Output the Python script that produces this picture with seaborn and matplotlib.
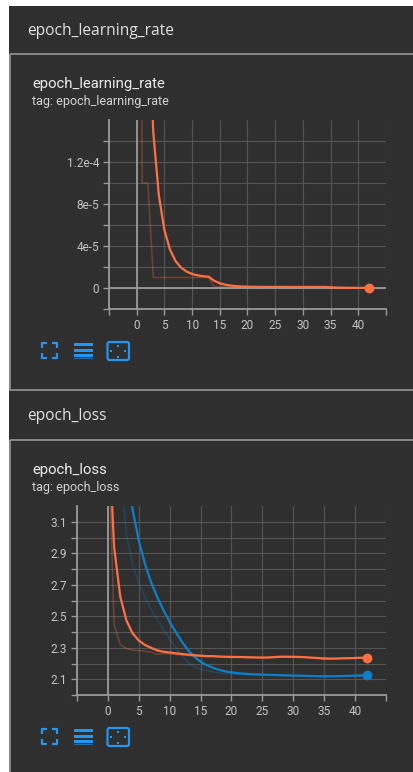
import matplotlib
matplotlib.use('Agg')
import matplotlib.pyplot as plt
import seaborn as sns
import pandas as pd
from matplotlib.patches import Rectangle, FancyBboxPatch

W, H = 414, 772

# ---- data ----
epochs = list(range(43))

lr_raw = [1e-3, 1e-4, 1e-4,
          1e-5, 1e-5, 1e-5, 1e-5, 1e-5, 1e-5, 1e-5, 1e-5, 1e-5, 1e-5, 1e-5,
          1e-6, 1e-6, 1e-6, 1e-6, 1e-6, 1e-6, 1e-6, 1e-6, 1e-6, 1e-6, 1e-6,
          1e-6, 1e-6, 1e-6, 1e-6, 1e-6, 1e-6, 1e-6, 1e-6, 1e-6, 1e-6,
          1e-7, 1e-7, 1e-7, 1e-7, 1e-7, 1e-7, 1e-7, 1e-7]

loss_train_raw = [3.76, 2.45, 2.32, 2.295, 2.285, 2.282, 2.278, 2.272, 2.258, 2.263,
                  2.262, 2.257, 2.254, 2.250, 2.248, 2.245, 2.243, 2.246, 2.241, 2.240,
                  2.240, 2.241, 2.239, 2.238, 2.237, 2.236, 2.239, 2.244, 2.246, 2.243,
                  2.242, 2.240, 2.237, 2.233, 2.231, 2.228, 2.229, 2.232, 2.236, 2.234,
                  2.237, 2.238, 2.236]

loss_val_raw = [4.60, 3.90, 3.45, 3.02, 2.83, 2.71, 2.62, 2.545, 2.48, 2.415,
                2.355, 2.30, 2.245, 2.205, 2.180, 2.165, 2.155, 2.148, 2.140, 2.136,
                2.133, 2.131, 2.130, 2.129, 2.128, 2.127, 2.126, 2.125, 2.124, 2.123,
                2.122, 2.121, 2.120, 2.119, 2.118, 2.118, 2.119, 2.120, 2.122, 2.123,
                2.124, 2.125, 2.125]

lr_yticks = [-2e-5, 0, 2e-5, 4e-5, 6e-5, 8e-5, 1e-4, 1.2e-4, 1.4e-4]
lr_ylabels = ['', '0', '', '4e-5', '', '8e-5', '', '1.2e-4', '']
loss_yticks = [2.0, 2.1, 2.2, 2.3, 2.4, 2.5, 2.6, 2.7, 2.8, 2.9, 3.0, 3.1]
loss_ylabels = ['', '2.1', '', '2.3', '', '2.5', '', '2.7', '', '2.9', '', '3.1']
xticks = [-5, 0, 5, 10, 15, 20, 25, 30, 35, 40, 45]
xlabels = ['', '0', '5', '10', '15', '20', '25', '30', '35', '40', '']

SMOOTHING = 0.6  # tensorboard default, debiased EMA == pandas ewm(adjust=True)
ORANGE = '#ff7043'
BLUE = '#0c7fcb'
BG = '#2f2f2f'
ICON = '#2196f3'

sns.set_theme(style='dark')
plt.rcParams['font.family'] = ['Roboto', 'DejaVu Sans']


def smooth(values):
    return pd.Series(values).ewm(alpha=1 - SMOOTHING).mean()


def px_axes(fig, left, top, right, bottom):
    return fig.add_axes([left / W, 1 - bottom / H, (right - left) / W, (bottom - top) / H])


def style_axes(ax, ylim, yticks, ylabels):
    ax.set_facecolor('none')
    ax.set_xlim(-5, 45)
    ax.set_ylim(*ylim)
    ax.set_xticks(xticks)
    ax.set_xticklabels(xlabels)
    ax.set_yticks(yticks)
    ax.set_yticklabels(ylabels)
    ax.set_axisbelow(True)
    ax.grid(True, color='#555555', lw=0.8)
    for s in ['top', 'right']:
        ax.spines[s].set_visible(False)
    for s in ['left', 'bottom']:
        ax.spines[s].set_color('#9a9a9a')
        ax.spines[s].set_linewidth(1.3)
    ax.tick_params(colors='#9a9a9a', labelcolor='#c4c4c4', length=4, width=1,
                   labelsize=8.5, pad=3, bottom=True, left=True)
    ax.axvline(0, color='#9a9a9a', lw=1.3, zorder=1)
    ax.set_xlabel('')
    ax.set_ylabel('')


def draw_run(ax, raw, color):
    sm = smooth(raw)
    sns.lineplot(x=epochs, y=raw, ax=ax, color=color, alpha=0.3, lw=1.1)
    sns.lineplot(x=epochs, y=sm, ax=ax, color=color, lw=1.6)
    ax.plot([epochs[-1]], [sm.iloc[-1]], 'o', ms=6, color=color, clip_on=False, zorder=5)


def draw_icons(bg, y0):
    # fit-domain brackets
    x0, x1, y1 = 42, 57, y0 + 15
    c = 5
    kw = dict(color=ICON, lw=1.6, solid_capstyle='butt')
    bg.plot([x0, x0, x0 + c], [y0 + c, y0, y0], **kw)
    bg.plot([x1 - c, x1, x1], [y0, y0, y0 + c], **kw)
    bg.plot([x0, x0, x0 + c], [y1 - c, y1, y1], **kw)
    bg.plot([x1 - c, x1, x1], [y1, y1, y1 - c], **kw)
    # data list icon
    for yy, hh, a in [(y0, 3, 1), (y0 + 5.7, 2.8, 1), (y0 + 10.7, 2.8, 1), (y0 + 14.8, 1.3, 0.6)]:
        bg.add_patch(Rectangle((74, yy), 19.3, hh, color=ICON, alpha=a, lw=0))
    # reset zoom icon
    bg.add_patch(FancyBboxPatch((107.5, y0 - 1), 21.5, 18, boxstyle='round,pad=0,rounding_size=2',
                                fill=False, ec=ICON, lw=1.6))
    for cx, cy in [(118.2, y0 + 2.6), (118.2, y0 + 13.6), (111.2, y0 + 8), (125.2, y0 + 8)]:
        bg.plot(cx, cy, 's', ms=1.6, color=ICON, mew=0)


fig = plt.figure(figsize=(W / 100, H / 100), dpi=100, facecolor='white')

bg = fig.add_axes([0, 0, 1, 1], zorder=-1)
bg.set_xlim(0, W)
bg.set_ylim(H, 0)
bg.axis('off')
bg.add_patch(Rectangle((9, 6), W - 9, H - 6, color=BG, lw=0))
bg.add_patch(Rectangle((10.5, 53.5), W, 336.5, fill=False, ec='#8e8e8e', lw=1.3))
bg.add_patch(Rectangle((10.5, 439.5), W, H, fill=False, ec='#8e8e8e', lw=1.3))

bg.text(27, 31, 'epoch_learning_rate', color='#e2e2e2', fontsize=11.2, va='center',
        family=['Open Sans', 'DejaVu Sans'])
bg.text(27, 416, 'epoch_loss', color='#e2e2e2', fontsize=11.2, va='center',
        family=['Open Sans', 'DejaVu Sans'])

for y_off, name in [(0, 'epoch_learning_rate'), (386, 'epoch_loss')]:
    bg.text(32, 84 + y_off, name, color='#ececec', fontsize=10.7, va='center')
    bg.text(32, 102 + y_off, 'tag: ' + name, color='#d4d4d4', fontsize=9, va='center')
    draw_icons(bg, 343 + y_off)

# learning rate chart
ax1 = px_axes(fig, 109, 120, 386, 309)
draw_run(ax1, lr_raw, ORANGE)
style_axes(ax1, (-2e-5, 1.6e-4), lr_yticks, lr_ylabels)
ax1.axhline(0, color='#9a9a9a', lw=1.3, zorder=1)

# loss chart
ax2 = px_axes(fig, 77, 506, 386, 695)
draw_run(ax2, loss_val_raw, BLUE)
draw_run(ax2, loss_train_raw, ORANGE)
style_axes(ax2, (2.0, 3.2), loss_yticks, loss_ylabels)

fig.savefig('out.png', dpi=100, facecolor=fig.get_facecolor())
